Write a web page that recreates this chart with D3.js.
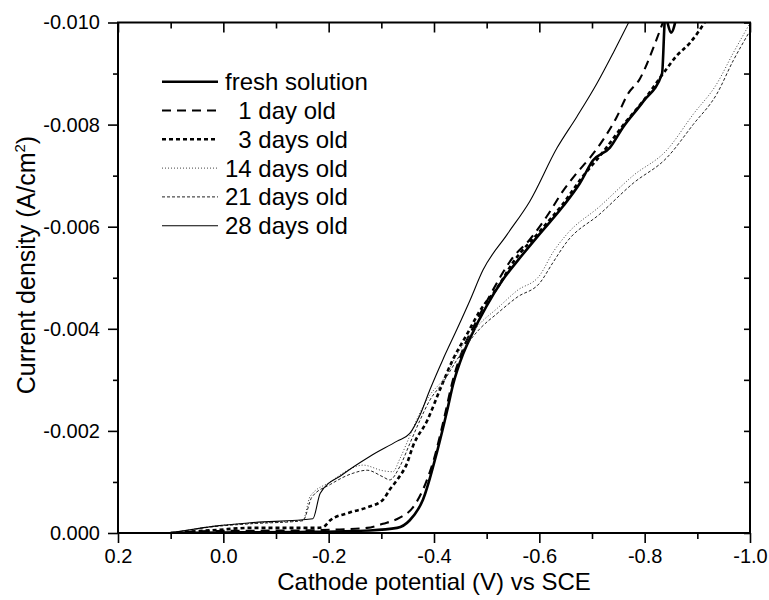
<!DOCTYPE html>
<html>
<head>
<meta charset="utf-8">
<script src="https://cdn.jsdelivr.net/npm/d3@7"></script>
<style>
  body { margin: 0; background: #fff; }
  text { font-family: "Liberation Sans", Arial, sans-serif; fill: #000; }
  .legend text { white-space: pre; }
</style>
</head>
<body>
<svg id="chart" width="769" height="600"></svg>
<script>
// potential (V vs SCE), current density (A/cm2)
const fresh = [
  [0.1, 0], [0.0, -0.00001], [-0.146, -0.00002], [-0.278, -0.00005], [-0.33, -0.0001],
  [-0.354, -0.00025], [-0.379, -0.00065], [-0.406, -0.0016], [-0.425, -0.0024],
  [-0.436, -0.0029], [-0.455, -0.0035], [-0.47, -0.00385], [-0.5, -0.00445],
  [-0.53, -0.00495], [-0.56, -0.00535], [-0.6, -0.00585], [-0.645, -0.0064],
  [-0.677, -0.00685], [-0.702, -0.0073], [-0.734, -0.00755], [-0.759, -0.00795],
  [-0.797, -0.00845], [-0.833, -0.009], [-0.839, -0.0101], [-0.85, -0.0098], [-0.862, -0.0102]
];
const day1 = [
  [0.1, 0], [0.012, -0.00004], [-0.146, -0.00005], [-0.221, -0.00007], [-0.273, -0.0001],
  [-0.303, -0.00018], [-0.335, -0.0003], [-0.36, -0.0005], [-0.387, -0.00105],
  [-0.4, -0.00145], [-0.417, -0.00215], [-0.436, -0.003], [-0.455, -0.0036],
  [-0.478, -0.0041], [-0.506, -0.00465], [-0.55, -0.0054], [-0.582, -0.00575],
  [-0.614, -0.0062], [-0.645, -0.0067], [-0.671, -0.00705], [-0.696, -0.00735],
  [-0.721, -0.0077], [-0.747, -0.00815], [-0.768, -0.0086], [-0.791, -0.0089],
  [-0.82, -0.0096], [-0.838, -0.0101]
];
const day3 = [
  [0.1, 0], [0.012, -0.00006], [-0.051, -0.0001], [-0.178, -0.0001], [-0.19, -0.00012],
  [-0.203, -0.00025], [-0.24, -0.0004], [-0.273, -0.0005], [-0.303, -0.00065],
  [-0.316, -0.00085], [-0.33, -0.00104], [-0.349, -0.00137], [-0.36, -0.0017],
  [-0.387, -0.0022], [-0.411, -0.0028], [-0.436, -0.0034], [-0.463, -0.0039],
  [-0.487, -0.00435], [-0.52, -0.0048], [-0.55, -0.0053], [-0.6, -0.0059],
  [-0.645, -0.00645], [-0.68, -0.00695], [-0.72, -0.00745], [-0.76, -0.008],
  [-0.8, -0.0085], [-0.835, -0.009], [-0.861, -0.00935], [-0.886, -0.0096], [-0.914, -0.01]
];
const day14 = [
  [0.1, 0], [0.012, -0.00014], [-0.051, -0.00019], [-0.151, -0.00025], [-0.165, -0.00072],
  [-0.203, -0.001], [-0.24, -0.00125], [-0.265, -0.00133], [-0.303, -0.00122],
  [-0.322, -0.0012], [-0.335, -0.00145], [-0.354, -0.0019], [-0.373, -0.00235],
  [-0.392, -0.0027], [-0.417, -0.003], [-0.444, -0.0035], [-0.463, -0.0038],
  [-0.487, -0.0041], [-0.52, -0.0044], [-0.558, -0.00475], [-0.601, -0.00505],
  [-0.626, -0.0055], [-0.652, -0.00585], [-0.715, -0.0064], [-0.778, -0.007],
  [-0.842, -0.0075], [-0.892, -0.0082], [-0.937, -0.0088], [-0.968, -0.0094], [-0.998, -0.00995]
];
const day21 = [
  [0.1, 0], [0.012, -0.00013], [-0.051, -0.00018], [-0.151, -0.00024], [-0.168, -0.0007],
  [-0.203, -0.00095], [-0.246, -0.00117], [-0.273, -0.00123], [-0.303, -0.0011],
  [-0.316, -0.00104], [-0.335, -0.0013], [-0.354, -0.00175], [-0.373, -0.0022],
  [-0.392, -0.0026], [-0.417, -0.00295], [-0.444, -0.0034], [-0.463, -0.0037],
  [-0.487, -0.004], [-0.52, -0.0043], [-0.558, -0.00462], [-0.601, -0.0049],
  [-0.626, -0.0053], [-0.652, -0.0057], [-0.715, -0.00625], [-0.778, -0.00685],
  [-0.842, -0.00735], [-0.892, -0.008], [-0.937, -0.0086], [-0.968, -0.00925], [-0.998, -0.0098]
];
const day28 = [
  [0.1, 0], [0.012, -0.00014], [-0.051, -0.0002], [-0.17, -0.00028], [-0.184, -0.00078],
  [-0.227, -0.00115], [-0.278, -0.0015], [-0.33, -0.0018], [-0.354, -0.00195],
  [-0.373, -0.0023], [-0.392, -0.0028], [-0.417, -0.0034], [-0.444, -0.004],
  [-0.468, -0.00455], [-0.493, -0.00515], [-0.539, -0.00585], [-0.582, -0.0065],
  [-0.634, -0.00755], [-0.671, -0.00815], [-0.709, -0.0088], [-0.74, -0.0094], [-0.772, -0.01005]
];

const seriesNames = ["fresh solution", "  1 day old", "  3 days old", "14 days old", "21 days old", "28 days old"];
const seriesData = [fresh, day1, day3, day14, day21, day28];

const xMajor = [0.2, 0.0, -0.2, -0.4, -0.6, -0.8, -1.0];
const xMajorLabels = ["0.2", "0.0", "-0.2", "-0.4", "-0.6", "-0.8", "-1.0"];
const xMinor = [0.1, -0.1, -0.3, -0.5, -0.7, -0.9];
const yMajor = [0, -0.002, -0.004, -0.006, -0.008, -0.010];
const yMajorLabels = ["0.000", "-0.002", "-0.004", "-0.006", "-0.008", "-0.010"];
const yMinor = [-0.001, -0.003, -0.005, -0.007, -0.009];

// line styles per series
const styles = [
  { w: 2.6, dash: null, color: "#000" },
  { w: 2.1, dash: "9,6", color: "#000" },
  { w: 2.6, dash: "4,3", color: "#000" },
  { w: 1, dash: "1,2", color: "#444" },
  { w: 1, dash: "3,2", color: "#222" },
  { w: 1.1, dash: null, color: "#000" }
];

const svg = d3.select("#chart");
const plotL = 118, plotR = 750, plotT = 22.5, plotB = 533;

const x = d3.scaleLinear().domain([0.2, -1.0]).range([plotL, plotR]);
const y = d3.scaleLinear().domain([0, -0.010]).range([plotB, plotT]);

svg.append("defs").append("clipPath").attr("id", "plotclip")
  .append("rect")
  .attr("x", plotL).attr("y", plotT)
  .attr("width", plotR - plotL).attr("height", plotB - plotT);

const line = d3.line()
  .x(d => x(d[0]))
  .y(d => y(d[1]))
  .curve(d3.curveMonotoneX);

const curves = svg.append("g").attr("clip-path", "url(#plotclip)");
seriesData.forEach((data, i) => {
  const s = styles[i];
  curves.append("path")
    .datum(data)
    .attr("d", line)
    .attr("fill", "none")
    .attr("stroke", s.color)
    .attr("stroke-width", s.w)
    .attr("stroke-dasharray", s.dash);
});

// axes
function styleAxis(g) {
  g.select(".domain").remove();
  g.selectAll(".tick line").attr("stroke", "#000").attr("stroke-width", 1.6);
  g.selectAll("text").attr("font-size", 20).attr("fill", "#000")
    .attr("font-family", '"Liberation Sans", Arial, sans-serif');
}

svg.append("g")
  .attr("transform", `translate(0,${plotB})`)
  .call(d3.axisBottom(x).tickValues(xMajor).tickSize(10).tickPadding(6)
    .tickFormat((d, i) => xMajorLabels[i]))
  .call(styleAxis);
svg.append("g")
  .attr("transform", `translate(0,${plotB})`)
  .call(d3.axisBottom(x).tickValues(xMinor).tickSize(6).tickFormat(""))
  .call(styleAxis);

svg.append("g")
  .attr("transform", `translate(${plotL},0)`)
  .call(d3.axisLeft(y).tickValues(yMajor).tickSize(10).tickPadding(8)
    .tickFormat((d, i) => yMajorLabels[i]))
  .call(styleAxis);
svg.append("g")
  .attr("transform", `translate(${plotL},0)`)
  .call(d3.axisLeft(y).tickValues(yMinor).tickSize(5).tickFormat(""))
  .call(styleAxis);

svg.append("g")
  .attr("transform", `translate(0,${plotT})`)
  .call(d3.axisTop(x).tickValues(xMajor).tickSize(-10).tickFormat(""))
  .call(styleAxis);
svg.append("g")
  .attr("transform", `translate(0,${plotT})`)
  .call(d3.axisTop(x).tickValues(xMinor).tickSize(-6).tickFormat(""))
  .call(styleAxis);

svg.append("g")
  .attr("transform", `translate(${plotR},0)`)
  .call(d3.axisRight(y).tickValues(yMajor.concat(yMinor)).tickSize(-6).tickFormat(""))
  .call(styleAxis);

svg.append("rect")
  .attr("x", plotL).attr("y", plotT)
  .attr("width", plotR - plotL).attr("height", plotB - plotT)
  .attr("fill", "none").attr("stroke", "#000").attr("stroke-width", 2);

// axis titles
svg.append("text")
  .attr("x", (plotL + plotR) / 2).attr("y", 590)
  .attr("text-anchor", "middle").attr("font-size", 24)
  .text("Cathode potential (V) vs SCE");

const yt = svg.append("text")
  .attr("transform", "translate(35,265) rotate(-90)")
  .attr("text-anchor", "middle").attr("font-size", 25);
yt.append("tspan").text("Current density (A/cm");
yt.append("tspan").attr("dy", -10).attr("font-size", 15).text("2");
yt.append("tspan").attr("dy", 10).text(")");

// legend
const legend = svg.append("g").attr("class", "legend");
seriesNames.forEach((name, i) => {
  const s = styles[i];
  const ly = 81.7 + i * 28.8;
  legend.append("line")
    .attr("x1", 162).attr("x2", 218).attr("y1", ly).attr("y2", ly)
    .attr("stroke", s.color).attr("stroke-width", s.w)
    .attr("stroke-dasharray", s.dash);
  legend.append("text")
    .attr("x", 225).attr("y", ly + 8.5)
    .attr("font-size", 24)
    .text(name);
});
</script>
</body>
</html>
